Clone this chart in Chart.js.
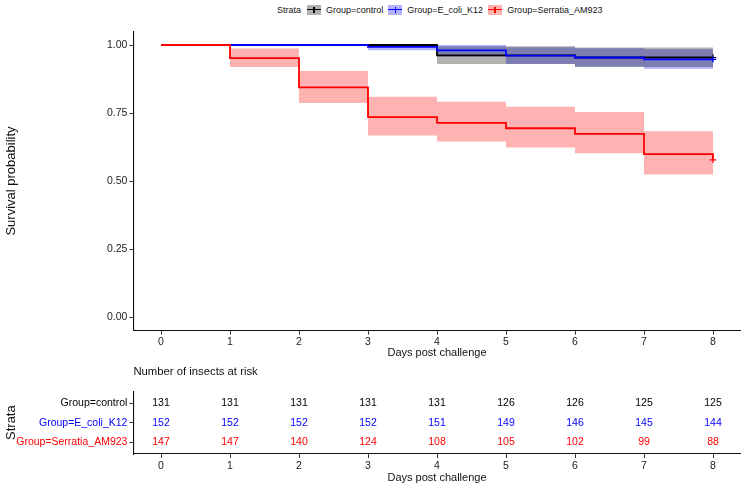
<!DOCTYPE html>
<html lang="en">
<head>
<meta charset="UTF-8">
<title>Survival by group</title>
<script src="https://cdn.jsdelivr.net/npm/chart.js"></script>
<style>
  html, body { margin: 0; padding: 0; background: #fff; }
  body { width: 742px; height: 485px; position: relative; overflow: hidden;
         font-family: "Liberation Sans", Arial, sans-serif; }
  #survCanvas { position: absolute; left: 0; top: 0; }
  #riskCanvas { position: absolute; left: 0; top: 362px; }
  #legend { position: absolute; left: 277px; top: 4px; height: 11px; font-size: 9px; color: #111;
            white-space: nowrap; display: flex; align-items: center; }
  .key { display: inline-block; position: relative; width: 14px; height: 10px; margin: 0 5px 0 5px; }
  .key::before { content: ''; position: absolute; left: 0; right: 0; top: 4px; height: 1.6px; background: var(--c); }
  .key::after { content: ''; position: absolute; left: 6.2px; width: 1.4px; top: 2px; height: 6px; background: var(--c); }
</style>
</head>
<body>
<div id="legend"></div>
<canvas id="survCanvas" width="742" height="362"></canvas>
<canvas id="riskCanvas" width="742" height="123"></canvas>

<script>
    // days and group names
    const days = [0, 1, 2, 3, 4, 5, 6, 7, 8];
    const groups = ['Group=control', 'Group=E_coli_K12', 'Group=Serratia_AM923'];
    const lineColors = ['#000000', '#0000ff', '#ff0000'];
    const bandColors = ['rgba(0,0,0,0.3)', 'rgba(0,0,255,0.3)', 'rgba(255,0,0,0.3)'];
    const yTicks = [0, 0.25, 0.5, 0.75, 1];

    // survival estimates (value after the events of each day) and 95% bands
    const survControl = [1, 1, 1, 1, 0.962, 0.962, 0.954, 0.954, 0.954];
    const upperControl = [1, 1, 1, 1, 0.995, 0.995, 0.991, 0.991, 0.991];
    const lowerControl = [1, 1, 1, 1, 0.930, 0.930, 0.919, 0.919, 0.919];

    const survEcoli = [1, 1, 1, 0.993, 0.980, 0.961, 0.954, 0.947, 0.947];
    const upperEcoli = [1, 1, 1, 1, 1, 0.992, 0.988, 0.984, 0.984];
    const lowerEcoli = [1, 1, 1, 0.981, 0.958, 0.930, 0.921, 0.913, 0.913];

    const survSerratia = [1, 0.952, 0.844, 0.735, 0.714, 0.694, 0.673, 0.599, 0.578];
    const upperSerratia = [1, 0.987, 0.904, 0.810, 0.791, 0.773, 0.754, 0.683, 0.683];
    const lowerSerratia = [1, 0.919, 0.787, 0.667, 0.645, 0.623, 0.602, 0.524, 0.524];

    // number at risk
    const riskControl = [131, 131, 131, 131, 131, 126, 126, 125, 125];
    const riskEcoli = [152, 152, 152, 152, 151, 149, 146, 145, 144];
    const riskSerratia = [147, 147, 140, 124, 108, 105, 102, 99, 88];

    const surv = [survControl, survEcoli, survSerratia];
    const upper = [upperControl, upperEcoli, upperSerratia];
    const lower = [lowerControl, lowerEcoli, lowerSerratia];
    const risk = [riskControl, riskEcoli, riskSerratia];
    const rowPos = [3, 2, 1]; // control on top of the table

    const FONT = '"Liberation Sans", Arial, sans-serif';
    Chart.defaults.font.family = FONT;
    Chart.defaults.color = '#111';

    // html legend
    const legend = document.getElementById('legend');
    legend.innerHTML = '<span style="margin-right:1px">Strata</span>' + groups.map((g, i) =>
        '<span class="key" style="background:' + bandColors[i] + ';--c:' + lineColors[i] + '"></span><span>' + g + '</span>'
    ).join('');

    const toXY = vals => days.map((d, i) => ({ x: d, y: vals[i] }));

    // bands first (lower, then upper filled to lower), then the lines
    const datasets = [];
    groups.forEach((g, i) => {
        datasets.push({
            label: g + ' lower', data: toXY(lower[i]), stepped: true,
            borderWidth: 0, pointRadius: 0, fill: false, order: 5
        });
        datasets.push({
            label: g + ' upper', data: toXY(upper[i]), stepped: true,
            borderWidth: 0, pointRadius: 0, fill: '-1', backgroundColor: bandColors[i], order: 5
        });
    });
    groups.forEach((g, i) => {
        datasets.push({
            label: g, data: toXY(surv[i]), stepped: true,
            borderColor: lineColors[i], borderWidth: 1.8, fill: false,
            pointStyle: 'cross',
            pointRadius: days.map((d, k) => k === days.length - 1 ? 3.2 : 0),
            pointBorderWidth: 1.2, pointBorderColor: lineColors[i],
            order: 2 - i
        });
    });

    const xAxis = (height, pad) => ({
        type: 'linear', min: -0.4, max: 8.4,
        afterBuildTicks: s => { s.ticks = days.map(v => ({ value: v })); },
        afterFit: s => { s.height = height; },
        ticks: { font: { size: 10.5 }, color: '#222', padding: pad, maxRotation: 0, autoSkip: false },
        grid: { drawOnChartArea: false, tickLength: 4, color: '#333' },
        border: { color: '#111', width: 1.1 },
        title: { display: true, text: 'Days post challenge', font: { size: 11 }, color: '#111',
                 padding: { top: 0, bottom: 2 } }
    });

    new Chart(document.getElementById('survCanvas'), {
        type: 'line',
        data: { datasets: datasets },
        options: {
            responsive: false, animation: false,
            layout: { autoPadding: false, padding: { top: 31.4, right: 1.4, left: 0, bottom: 0 } },
            plugins: {
                legend: { display: false }, tooltip: { enabled: false },
                filler: { drawTime: 'beforeDatasetsDraw' }
            },
            scales: {
                x: xAxis(31.4, 1),
                y: {
                    type: 'linear', min: -0.05, max: 1.05,
                    afterBuildTicks: s => { s.ticks = yTicks.map(v => ({ value: v })); },
                    afterFit: s => { s.width = 133.4; },
                    ticks: { font: { size: 10.5 }, color: '#222', padding: 2, callback: v => v.toFixed(2) },
                    grid: { drawOnChartArea: false, tickLength: 4, color: '#333' },
                    border: { color: '#111', width: 1.1 },
                    title: { display: true, text: 'Survival probability', font: { size: 13 }, color: '#111',
                             padding: { top: 4, bottom: 0 } }
                }
            }
        }
    });

    // risk table: one invisible point per cell, text drawn at the point
    const riskText = {
        id: 'riskText',
        afterDatasetsDraw(chart) {
            const ctx = chart.ctx;
            ctx.save();
            ctx.font = '10.5px ' + FONT;
            ctx.textAlign = 'center';
            ctx.textBaseline = 'middle';
            chart.data.datasets.forEach((ds, i) => {
                ctx.fillStyle = lineColors[i];
                chart.getDatasetMeta(i).data.forEach((pt, k) => {
                    ctx.fillText(String(risk[i][k]), pt.x, pt.y);
                });
            });
            ctx.restore();
        }
    };

    const riskX = xAxis(31, 1.5);
    riskX.title.padding = { top: 0, bottom: 0 };

    new Chart(document.getElementById('riskCanvas'), {
        type: 'scatter',
        data: {
            datasets: groups.map((g, i) => ({
                label: g, data: days.map(d => ({ x: d, y: rowPos[i] })), pointRadius: 0
            }))
        },
        options: {
            responsive: false, animation: false,
            layout: { autoPadding: false, padding: { top: 0, right: 1.4, left: 0, bottom: 0 } },
            plugins: {
                legend: { display: false }, tooltip: { enabled: false },
                title: { display: true, text: 'Number of insects at risk', align: 'start', fullSize: false,
                         font: { size: 11.3, weight: 'normal' }, color: '#111',
                         padding: { top: 3, bottom: 12.7 } }
            },
            scales: {
                x: riskX,
                y: {
                    type: 'linear', min: 0.4, max: 3.6,
                    afterBuildTicks: s => { s.ticks = rowPos.map(v => ({ value: v })); },
                    afterFit: s => { s.width = 133.4; },
                    ticks: {
                        font: { size: 10.5 }, padding: 2,
                        callback: v => groups[rowPos.indexOf(v)],
                        color: c => lineColors[rowPos.indexOf(c.tick.value)]
                    },
                    grid: { drawOnChartArea: false, tickLength: 4, color: '#333' },
                    border: { color: '#111', width: 1.1 },
                    title: { display: true, text: 'Strata', font: { size: 13 }, color: '#111',
                             padding: { top: 4, bottom: 0 } }
                }
            }
        },
        plugins: [riskText]
    });
</script>
</body>
</html>
